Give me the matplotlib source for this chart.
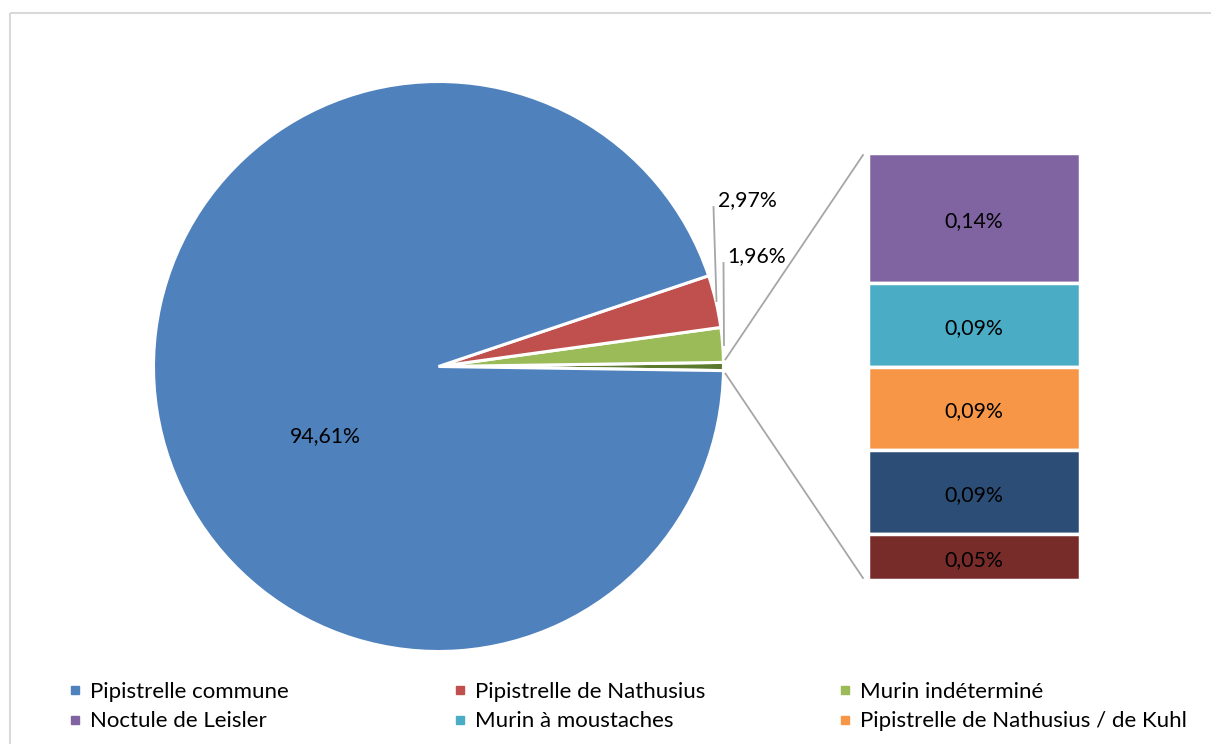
import matplotlib
matplotlib.use("Agg")
import matplotlib.pyplot as plt
from matplotlib.lines import Line2D
import numpy as np

plt.rcParams['font.family'] = ['Lato', 'DejaVu Sans']

# ---- data ----
main_labels = ["Pipistrelle commune", "Pipistrelle de Nathusius", "Murin indéterminé"]
main_values = [94.61, 2.97, 1.96]
main_colors = ["#4F81BD", "#C0504D", "#9BBB59"]
other_color = "#5B7A2E"

bar_labels = ["Noctule de Leisler", "Murin à moustaches",
              "Pipistrelle de Nathusius / de Kuhl", "Autre 1", "Autre 2"]
bar_values = [0.14, 0.09, 0.09, 0.09, 0.05]
bar_colors = ["#8064A2", "#4BACC6", "#F79646", "#2C4D75", "#772C2A"]

legend_labels = ["Pipistrelle commune", "Pipistrelle de Nathusius", "Murin indéterminé",
                 "Noctule de Leisler", "Murin à moustaches", "Pipistrelle de Nathusius / de Kuhl"]
legend_colors = ["#4F81BD", "#C0504D", "#9BBB59", "#8064A2", "#4BACC6", "#F79646"]


def fmt(v):
    return f"{v:.2f}%".replace(".", ",")


W, H = 1211, 744
fig = plt.figure(figsize=(W / 100, H / 100), dpi=100)
ax = fig.add_axes([0, 0, 1, 1])

FS = 15.3
FS_LEG = 16.0

# ---- main pie ----
other = sum(bar_values)
pie_vals = [other] + main_values[::-1]
pie_cols = [other_color] + main_colors[::-1]
cx, cy, R = 438.5, H - 366.5, 285
start = -other * 3.6 / 2
wedges, _ = ax.pie(pie_vals, colors=pie_cols, startangle=start, counterclock=True,
                   center=(cx, cy), radius=R, frame=True,
                   wedgeprops=dict(edgecolor="white", linewidth=2.2))
ax.set_xlim(0, W)
ax.set_ylim(0, H)
ax.set_aspect('equal')
ax.axis('off')

# chart border (light gray)
ax.plot([9.5, 9.5], [0, H - 13], color="#D9D9D9", lw=1.5, solid_capstyle='butt')
ax.plot([9.5, W], [H - 13, H - 13], color="#D9D9D9", lw=1.5, solid_capstyle='butt')

# labels of pie
ax.text(325, H - 436, fmt(main_values[0]), ha='center', va='center', fontsize=FS, color="#000000")
ax.text(747, H - 200, fmt(main_values[1]), ha='center', va='center', fontsize=FS, color="#000000")
ax.text(757, H - 256, fmt(main_values[2]), ha='center', va='center', fontsize=FS, color="#000000")
ax.plot([713.5, 716.5], [H - 207, H - 301], color="#A6A6A6", lw=1.3)
ax.plot([723.5, 724], [H - 263, H - 345], color="#A6A6A6", lw=1.3)

# ---- bar of pie ----
bx, bw = 974, 212
btop, bbot = H - 153, H - 580
scale = (btop - bbot) / sum(bar_values)
heights = np.array(bar_values) * scale
tops = btop - np.concatenate([[0], np.cumsum(heights)[:-1]])
bottoms = tops - heights
ax.bar([bx] * len(bar_values), heights, bottom=bottoms, width=bw, color=bar_colors,
       edgecolor="white", linewidth=2.5)
for v, b, h in zip(bar_values, bottoms, heights):
    ax.text(bx, b + h / 2 - 3, fmt(v), ha='center', va='center', fontsize=FS, color="#000000")

# connector lines
w_other = wedges[0]
t1, t2 = np.deg2rad(w_other.theta1), np.deg2rad(w_other.theta2)
x_left = bx - bw / 2 - 5
ax.plot([cx + (R + 2) * np.cos(t2), x_left], [cy + (R + 2) * np.sin(t2) + 3, btop - 2],
        color="#A6A6A6", lw=1.3)
ax.plot([cx + (R + 2) * np.cos(t1), x_left], [cy + (R + 2) * np.sin(t1) - 3, bbot + 2],
        color="#A6A6A6", lw=1.3)

# ---- legend: three columns ----
col_x = [69, 454, 839]
legs = []
for c in range(3):
    idx = [c, c + 3]
    handles = [Line2D([], [], marker='s', ls='none', markersize=6,
                      markerfacecolor=legend_colors[i], markeredgecolor=legend_colors[i])
               for i in idx]
    leg = ax.legend(handles, [legend_labels[i] for i in idx], loc='upper left',
                    bbox_to_anchor=(col_x[c], H - 682), bbox_transform=ax.transData,
                    frameon=False, fontsize=FS_LEG, handlelength=0.5, handletextpad=0.45,
                    labelspacing=0.42, borderaxespad=0, borderpad=0)
    legs.append(leg)
for leg in legs[:-1]:
    ax.add_artist(leg)

fig.savefig("out.png", dpi=100)
